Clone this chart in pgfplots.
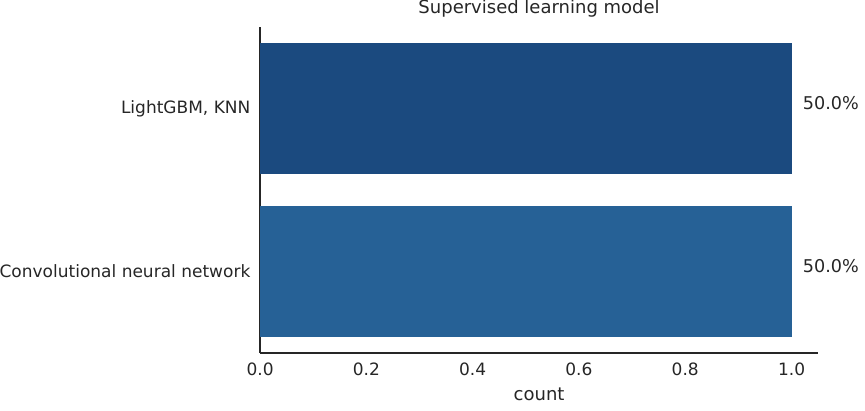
\documentclass[border=0pt]{standalone}
\usepackage{fontspec}
\setmainfont{DejaVu Sans}
\usepackage{pgfplots}
\pgfplotsset{compat=1.18}
\definecolor{barA}{HTML}{1B4A7F}
\definecolor{barB}{HTML}{266196}
\definecolor{txt}{HTML}{262626}
\begin{document}
\begin{tikzpicture}
\begin{axis}[
  scale only axis, width=418.5pt, height=244.5pt,
  xbar, bar width=0.8, bar shift=0pt,
  xmin=0, xmax=1.05, ymin=-0.5, ymax=1.5, y dir=reverse,
  axis x line*=bottom, axis y line*=left,
  axis line style={txt, line width=0.95pt},
  major tick length=0pt,
  xtick={0,0.2,0.4,0.6,0.8,1.0},
  xticklabel style={/pgf/number format/fixed, /pgf/number format/fixed zerofill,
    /pgf/number format/precision=1, font=\fontsize{12.75}{15}\selectfont, text=txt,
    yshift=-3.75pt},
  /pgf/number format/assume math mode=true,
  ytick={0,1},
  yticklabels={{LightGBM, KNN},{Convolutional neural network}},
  yticklabel style={font=\fontsize{12.75}{15}\selectfont, text=txt, xshift=-3.75pt},
  xlabel={count},
  xlabel style={font=\fontsize{13.5}{16}\selectfont, text=txt, yshift=-2.5pt},
  title={Supervised learning model},
  title style={font=\fontsize{13.5}{16}\selectfont, text=txt,
    at={(0.5,1)}, anchor=base, yshift=4.5pt},
  point meta=explicit symbolic,
  nodes near coords,
  nodes near coords style={anchor=west, font=\fontsize{13.2}{16}\selectfont, text=txt,
    xshift=5pt, yshift=4pt},
  clip=false,
]
\addplot[fill=barA, draw=none] coordinates {(1.0,0) [50.0\%]};
\addplot[fill=barB, draw=none] coordinates {(1.0,1) [50.0\%]};
\coordinate (bbl) at (rel axis cs:-0.466,-0.175);
\coordinate (btr) at (rel axis cs:1.084,1.083);
\end{axis}
\pgfresetboundingbox
\path (bbl) rectangle (btr);
\end{tikzpicture}
\end{document}
